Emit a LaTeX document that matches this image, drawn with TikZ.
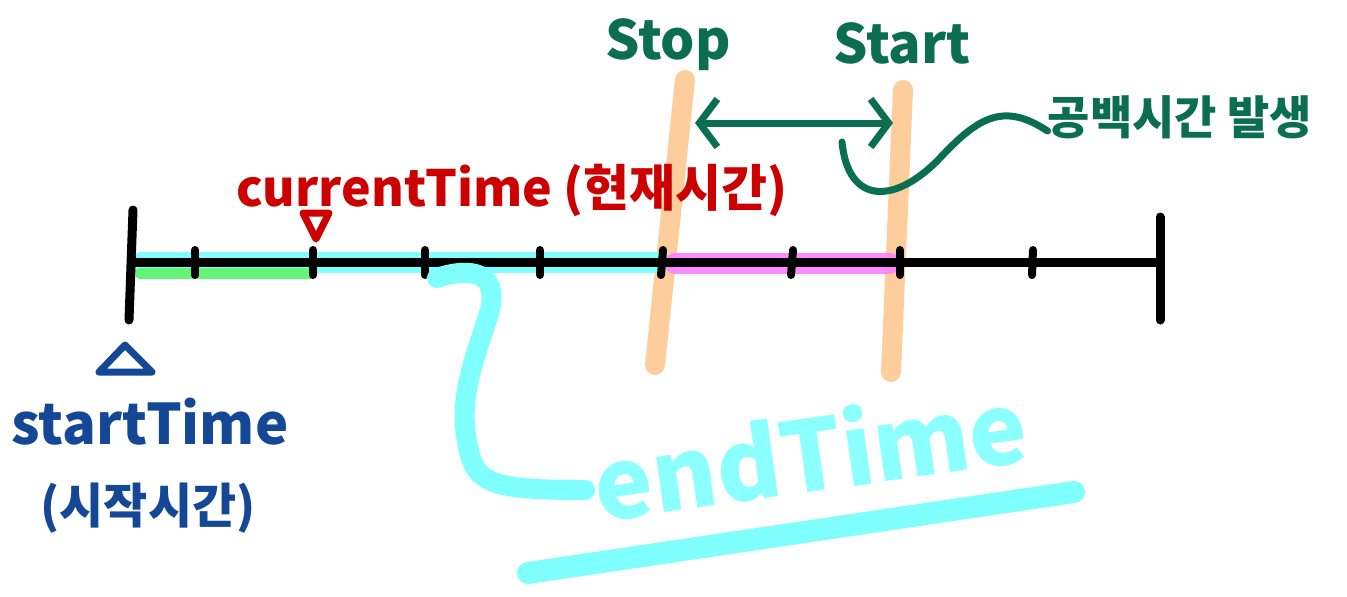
\documentclass[tikz,border=0pt]{standalone}
\usepackage{fontspec}
\setmainfont{Noto Sans CJK KR}
\usetikzlibrary{arrows.meta}
\definecolor{tred}{RGB}{204,0,0}
\definecolor{tgreen}{RGB}{12,110,80}
\definecolor{tblue}{RGB}{20,72,150}
\definecolor{tcyan}{RGB}{128,255,255}
\definecolor{torange}{RGB}{253,205,155}
\definecolor{tmag}{RGB}{255,128,255}
\definecolor{tlime}{RGB}{100,245,120}
\newcommand{\myfs}[1]{\fontsize{#1}{#1}\selectfont}
\begin{document}
\begin{tikzpicture}[x=1pt,y=-1pt,line cap=round,line join=round,
  lbl/.style={inner sep=0pt,font=\bfseries},
  axisline/.style={line width=9pt,black},
  tickmark/.style={line width=8pt,black},
  hl/.style={line width=21pt},
  bar/.style={line width=20pt,torange},
  tri/.style={line width=7pt}]
\useasboundingbox (0,0) rectangle (1347,597);
% coordinates
\coordinate (L) at (133,262);
\coordinate (R) at (1160,262);
\coordinate (stopTop) at (685,80);
\coordinate (stopBot) at (655,365);
\coordinate (startTop) at (903,90);
\coordinate (startBot) at (891,372);
% orange bars
\draw[bar] (stopTop) -- (stopBot);
\draw[bar] (startTop) -- (startBot);
% highlights
\draw[hl,tcyan] (140,262) -- (660,262);
\draw[line width=11pt,tlime] (140,273) -- (312,273);
\draw[hl,tmag,opacity=0.9] (675,263) -- (890,263);
% axis
\draw[axisline] (L) -- (R);
\draw[axisline] (133,210) -- (129,320);
\draw[axisline] (1160,217) -- (1160,320);
\foreach \x/\d in {195/0,313/0,425/0,540/0,663/-2,793/-2,900/0,1033/-1}
  \draw[tickmark] (\x,250) -- (\x+\d,275);
% current time triangle
\draw[tri,tred] (303,213) -- (329,213) -- (316,239) -- cycle;
% start time triangle
\draw[tri,tblue] (99,372) -- (152,372) -- (125,345) -- cycle;
% labels
\node[lbl,tred,anchor=center] (cur) at (512,190) {\myfs{50}currentTime (현재시간)};
\node[lbl,tgreen] (stop) at (668,45) {\myfs{54}Stop};
\node[lbl,tgreen] (start) at (902,43) {\myfs{54}Start};
\node[lbl,tgreen] (gap) at (1180,117) {\myfs{46}공백시간 발생};
\node[lbl,tblue] (st) at (150,422) {\myfs{56}startTime};
\node[lbl,tblue] (stk) at (148,508) {\myfs{48}(시작시간)};
\node[lbl,tcyan,text opacity=0.9,rotate=8] (et) at (810,452) {\myfs{98}endTime};
% green double arrow
\draw[tgreen,line width=7pt,{Straight Barb[length=18pt,width=48pt]}-{Straight Barb[length=18pt,width=48pt]}]
  ([xshift=10pt]stopTop|-0,123) -- ([xshift=-10pt]startTop|-0,123);
% green curve to label
\coordinate (gapIn) at ([yshift=-14pt]gap.west);
\draw[tgreen,line width=7pt] (842,142) .. controls (848,205) and (895,205) .. (940,158)
  .. controls (980,115) and (1005,103) .. (gapIn);
% cyan bracket to endTime
\coordinate (etIn) at (585,490);
\draw[tcyan,line width=20pt] (437,278) .. controls (460,270) and (500,265) .. (490,310)
  .. controls (475,360) and (455,400) .. (470,455)
  .. controls (478,485) and (500,490) .. (etIn);
% underline
\draw[tcyan,line width=22pt] (528,573) -- (1074,492);
\end{tikzpicture}
\end{document}
